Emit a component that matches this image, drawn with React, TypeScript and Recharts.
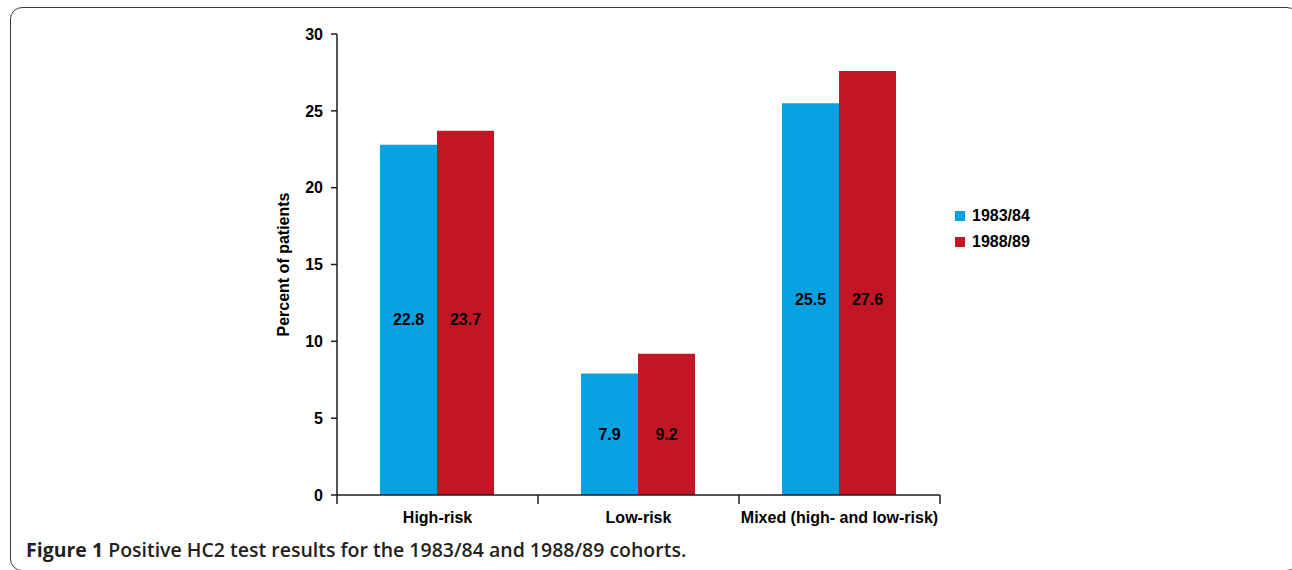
import React from 'react';
import { BarChart, Bar, XAxis, YAxis, LabelList, Legend } from 'recharts';

const categories = ['High-risk', 'Low-risk', 'Mixed (high- and low-risk)'];
const cohort1983 = [22.8, 7.9, 25.5];
const cohort1988 = [23.7, 9.2, 27.6];
const seriesNames = ['1983/84', '1988/89'];
const yTicks = [0, 5, 10, 15, 20, 25, 30];

const data = categories.map((c, i) => ({ category: c, a: cohort1983[i], b: cohort1988[i] }));

const W = 1292;
const H = 570;
const MARGIN = { top: 34, right: 352, bottom: 45, left: 270 };
const Y_AXIS_W = 67;
const X_AXIS_H = 30;
const PLOT_W = W - MARGIN.left - MARGIN.right - Y_AXIS_W;
const BAND = PLOT_W / categories.length;
const TICK_SIZE = 8;
const TICK_MARGIN = 9;

const BLUE = '#08A1E1';
const RED = '#C21624';
const INK = '#1f1b1c';
const FONT = '"Liberation Sans", Arial, Helvetica, sans-serif';
const FS = 16;

const XTick = (props: any) => {
  const { x, y, payload, index } = props;
  const axisY = y - TICK_SIZE - TICK_MARGIN;
  const left = x - BAND / 2;
  const right = x + BAND / 2;
  return (
    <g>
      <line x1={left} x2={left} y1={axisY} y2={axisY + TICK_SIZE + 1} stroke={INK} strokeWidth={1.5} />
      {index === categories.length - 1 && (
        <line x1={right} x2={right} y1={axisY} y2={axisY + TICK_SIZE + 1} stroke={INK} strokeWidth={1.5} />
      )}
      <text x={x} y={y} dy="0.71em" textAnchor="middle" fontFamily={FONT} fontWeight="bold" fontSize={FS} fill="#000">
        {payload.value}
      </text>
    </g>
  );
};

const YLabel = (props: any) => {
  const vb = props.viewBox || {};
  const cx = vb.x + 13;
  const cy = vb.y + vb.height / 2;
  return (
    <text x={cx} y={cy} transform={`rotate(-90 ${cx} ${cy})`} textAnchor="middle" dominantBaseline="central"
      fontFamily={FONT} fontWeight="bold" fontSize={FS} fill="#000">
      Percent of patients
    </text>
  );
};

// Both value labels of a group sit at the vertical centre of the group's shorter bar.
const makeValueLabel = (own: number[]) => (props: any) => {
  const { x, y, width, height, index, value } = props;
  const groupMin = Math.min(cohort1983[index], cohort1988[index]);
  const bottom = y + height;
  const shortH = height * (groupMin / own[index]);
  const cy = bottom - shortH / 2;
  return (
    <text x={x + width / 2} y={cy} textAnchor="middle" dominantBaseline="central"
      fontFamily={FONT} fontWeight="bold" fontSize={FS} fill="#000">
      {value}
    </text>
  );
};

const LegendContent = (props: any) => {
  const items = props.payload || [];
  return (
    <div style={{ fontFamily: FONT, fontWeight: 'bold', fontSize: FS, color: '#000' }}>
      {items.map((it: any, i: number) => (
        <div key={i} style={{ display: 'flex', alignItems: 'center', height: 26 }}>
          <span style={{ display: 'inline-block', width: 10, height: 10, background: it.color, marginRight: 7 }} />
          <span>{it.value}</span>
        </div>
      ))}
    </div>
  );
};

export default function App() {
  return (
    <div style={{ position: 'absolute', left: 0, top: 0, width: W, height: H, overflow: 'hidden', background: '#fff' }}>
      <div style={{ position: 'absolute', left: 10, top: 7, width: 1289, height: 564, border: '1.5px solid #3a3a3a', borderRadius: 12, boxSizing: 'border-box' }} />
      <div style={{ position: 'absolute', left: 0, top: 0 }}>
        <BarChart width={W} height={H} data={data} margin={MARGIN} barCategoryGap="21.4%" barGap={0}>
          <XAxis dataKey="category" height={X_AXIS_H} tickLine={false} tickSize={TICK_SIZE} tickMargin={TICK_MARGIN}
            axisLine={{ stroke: INK, strokeWidth: 1.5 }} tick={<XTick />} interval={0} />
          <YAxis width={Y_AXIS_W} domain={[0, 30]} ticks={yTicks} interval={0} tickSize={6} tickMargin={8}
            axisLine={{ stroke: INK, strokeWidth: 1.5 }} tickLine={{ stroke: INK, strokeWidth: 1.5 }}
            tick={{ fontFamily: FONT, fontWeight: 'bold', fontSize: FS, fill: '#000' }}
            label={{ content: <YLabel /> }} />
          <Legend layout="horizontal" align="center" verticalAlign="middle" content={<LegendContent />}
            wrapperStyle={{ left: 955, top: 203, width: 130, height: 52 }} />
          <Bar dataKey="a" name={seriesNames[0]} fill={BLUE} isAnimationActive={false}>
            <LabelList dataKey="a" content={makeValueLabel(cohort1983)} />
          </Bar>
          <Bar dataKey="b" name={seriesNames[1]} fill={RED} isAnimationActive={false}>
            <LabelList dataKey="b" content={makeValueLabel(cohort1988)} />
          </Bar>
        </BarChart>
      </div>
      <div style={{ position: 'absolute', left: 26, top: 536, fontFamily: '"Open Sans", sans-serif', fontSize: 19.5, lineHeight: '28px', color: '#231f20', whiteSpace: 'nowrap' }}>
        <span style={{ fontWeight: 700 }}>Figure 1</span>
        <span style={{ fontWeight: 600 }}> Positive HC2 test results for the 1983/84 and 1988/89 cohorts.</span>
      </div>
    </div>
  );
}
